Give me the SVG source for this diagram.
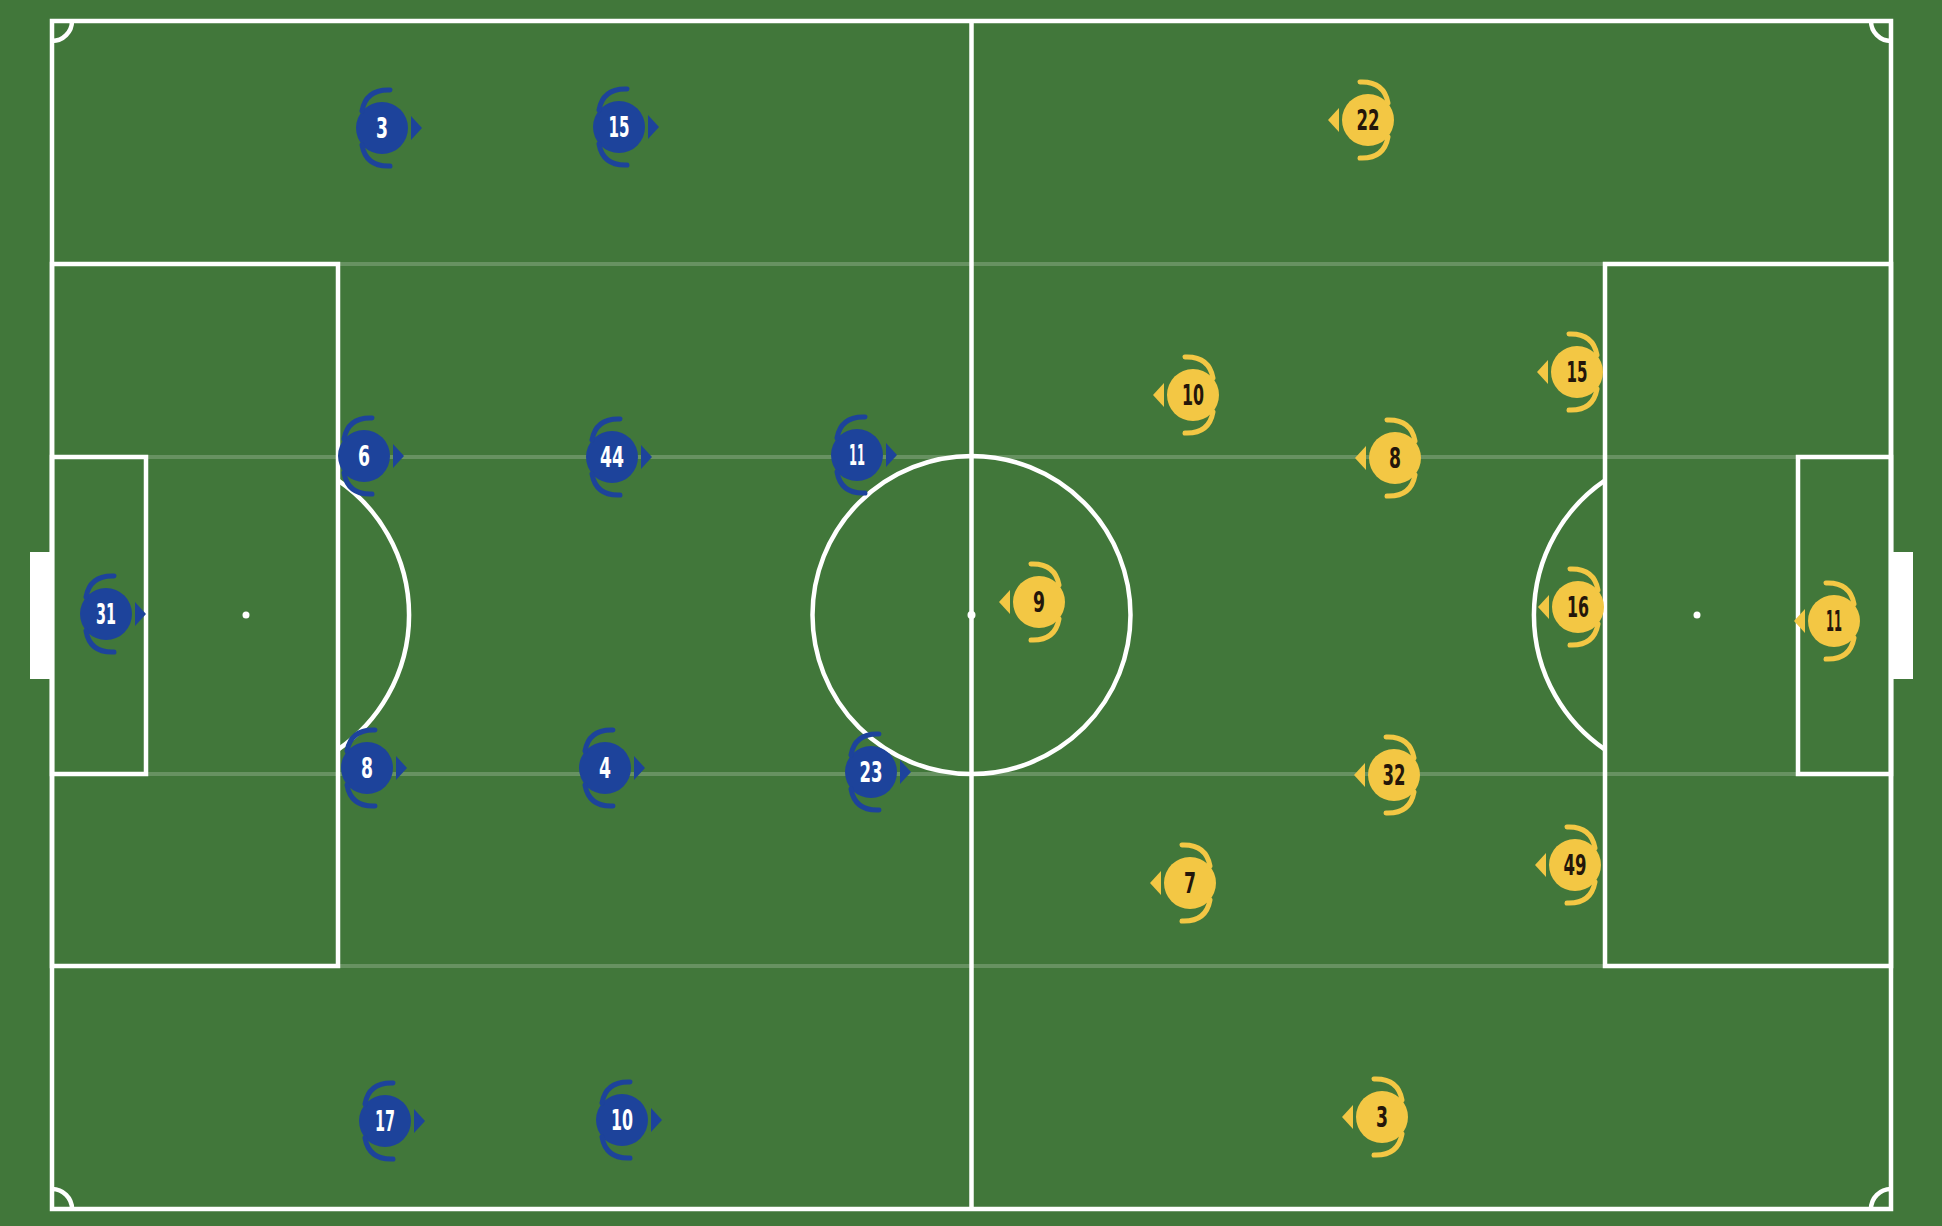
<svg xmlns="http://www.w3.org/2000/svg" xmlns:xlink="http://www.w3.org/1999/xlink" width="1942" height="1226" viewBox="0 0 1942 1226">
<style>
.pitch{fill:none;stroke:#ffffff;stroke-width:4.5}
.faint{stroke:#ffffff;stroke-opacity:0.2;stroke-width:4}
.spot{fill:#ffffff}
.goal{fill:#ffffff}
.num{font-family:"Liberation Sans Narrow","DejaVu Sans Condensed","Liberation Sans",sans-serif;font-size:28px;text-anchor:middle;font-weight:700}
.bnum{fill:#ffffff}
.ynum{fill:#24160a}
</style>
<defs>
<g id="blue">
<circle cx="0" cy="0" r="26" fill="#1d439b"/>
<path d="M8 -38 Q-16 -39 -20 -17 M8 38 Q-16 39 -20 17" fill="none" stroke="#1d439b" stroke-width="5" stroke-linecap="round"/>
<polygon points="29,-12 40,0 29,12" fill="#1d439b"/>
</g>
<g id="yellow">
<circle cx="0" cy="0" r="26" fill="#f3c744"/>
<path d="M-8 -38 Q16 -39 20 -17 M-8 38 Q16 39 20 17" fill="none" stroke="#f3c744" stroke-width="5" stroke-linecap="round"/>
<polygon points="-29,-12 -40,0 -29,12" fill="#f3c744"/>
</g>
</defs>
<rect x="0" y="0" width="1942" height="1226" fill="#41773a"/>
<g id="pitch">
<line class="faint" x1="52" y1="264" x2="1891" y2="264"/>
<line class="faint" x1="52" y1="457" x2="1891" y2="457"/>
<line class="faint" x1="52" y1="774" x2="1891" y2="774"/>
<line class="faint" x1="52" y1="966" x2="1891" y2="966"/>
<rect class="goal" x="30" y="552" width="22" height="127"/>
<rect class="goal" x="1891" y="552" width="22" height="127"/>
<rect class="pitch" x="52" y="21" width="1839" height="1188"/>
<line class="pitch" x1="971.5" y1="21" x2="971.5" y2="1209"/>
<circle class="pitch" cx="971.5" cy="615" r="159"/>
<circle class="spot" cx="971.5" cy="615" r="4"/>
<rect class="pitch" x="52" y="264" width="286" height="702"/>
<rect class="pitch" x="1605" y="264" width="286" height="702"/>
<rect class="pitch" x="52" y="457" width="94" height="317"/>
<rect class="pitch" x="1798" y="457" width="93" height="317"/>
<circle class="spot" cx="246" cy="615" r="3.5"/>
<circle class="spot" cx="1697" cy="615" r="3.5"/>
<path class="pitch" d="M338 480.4 A163 163 0 0 1 338 749.6"/>
<path class="pitch" d="M1605 480.4 A163 163 0 0 0 1605 749.6"/>
<path class="pitch" d="M52 41 A20 20 0 0 0 72 21 M1871 21 A20 20 0 0 0 1891 41 M52 1189 A20 20 0 0 1 72 1209 M1871 1209 A20 20 0 0 1 1891 1189"/>
</g>
<g id="connectors"></g>
<g id="blue-3" transform="translate(382,128)"><use xlink:href="#blue" href="#blue"/><text class="num bnum" x="0" y="10" textLength="12" lengthAdjust="spacingAndGlyphs">3</text></g>
<g id="blue-15" transform="translate(619,127)"><use xlink:href="#blue" href="#blue"/><text class="num bnum" x="0" y="10" textLength="21" lengthAdjust="spacingAndGlyphs">15</text></g>
<g id="blue-6" transform="translate(364,456)"><use xlink:href="#blue" href="#blue"/><text class="num bnum" x="0" y="10" textLength="12" lengthAdjust="spacingAndGlyphs">6</text></g>
<g id="blue-44" transform="translate(612,457)"><use xlink:href="#blue" href="#blue"/><text class="num bnum" x="0" y="10" textLength="24" lengthAdjust="spacingAndGlyphs">44</text></g>
<g id="blue-11" transform="translate(857,455)"><use xlink:href="#blue" href="#blue"/><text class="num bnum" x="0" y="10" textLength="16" lengthAdjust="spacingAndGlyphs">11</text></g>
<g id="blue-31" transform="translate(106,614)"><use xlink:href="#blue" href="#blue"/><text class="num bnum" x="0" y="10" textLength="20" lengthAdjust="spacingAndGlyphs">31</text></g>
<g id="blue-8" transform="translate(367,768)"><use xlink:href="#blue" href="#blue"/><text class="num bnum" x="0" y="10" textLength="12" lengthAdjust="spacingAndGlyphs">8</text></g>
<g id="blue-4" transform="translate(605,768)"><use xlink:href="#blue" href="#blue"/><text class="num bnum" x="0" y="10" textLength="12" lengthAdjust="spacingAndGlyphs">4</text></g>
<g id="blue-23" transform="translate(871,772)"><use xlink:href="#blue" href="#blue"/><text class="num bnum" x="0" y="10" textLength="23" lengthAdjust="spacingAndGlyphs">23</text></g>
<g id="blue-17" transform="translate(385,1121)"><use xlink:href="#blue" href="#blue"/><text class="num bnum" x="0" y="10" textLength="20" lengthAdjust="spacingAndGlyphs">17</text></g>
<g id="blue-10" transform="translate(622,1120)"><use xlink:href="#blue" href="#blue"/><text class="num bnum" x="0" y="10" textLength="22" lengthAdjust="spacingAndGlyphs">10</text></g>
<g id="yellow-22" transform="translate(1368,120)"><use xlink:href="#yellow" href="#yellow"/><text class="num ynum" x="0" y="10" textLength="23" lengthAdjust="spacingAndGlyphs">22</text></g>
<g id="yellow-10" transform="translate(1193,395)"><use xlink:href="#yellow" href="#yellow"/><text class="num ynum" x="0" y="10" textLength="22" lengthAdjust="spacingAndGlyphs">10</text></g>
<g id="yellow-15" transform="translate(1577,372)"><use xlink:href="#yellow" href="#yellow"/><text class="num ynum" x="0" y="10" textLength="21" lengthAdjust="spacingAndGlyphs">15</text></g>
<g id="yellow-8" transform="translate(1395,458)"><use xlink:href="#yellow" href="#yellow"/><text class="num ynum" x="0" y="10" textLength="12" lengthAdjust="spacingAndGlyphs">8</text></g>
<g id="yellow-9" transform="translate(1039,602)"><use xlink:href="#yellow" href="#yellow"/><text class="num ynum" x="0" y="10" textLength="12" lengthAdjust="spacingAndGlyphs">9</text></g>
<g id="yellow-16" transform="translate(1578,607)"><use xlink:href="#yellow" href="#yellow"/><text class="num ynum" x="0" y="10" textLength="22" lengthAdjust="spacingAndGlyphs">16</text></g>
<g id="yellow-11" transform="translate(1834,621)"><use xlink:href="#yellow" href="#yellow"/><text class="num ynum" x="0" y="10" textLength="16" lengthAdjust="spacingAndGlyphs">11</text></g>
<g id="yellow-32" transform="translate(1394,775)"><use xlink:href="#yellow" href="#yellow"/><text class="num ynum" x="0" y="10" textLength="23" lengthAdjust="spacingAndGlyphs">32</text></g>
<g id="yellow-7" transform="translate(1190,883)"><use xlink:href="#yellow" href="#yellow"/><text class="num ynum" x="0" y="10" textLength="12" lengthAdjust="spacingAndGlyphs">7</text></g>
<g id="yellow-49" transform="translate(1575,865)"><use xlink:href="#yellow" href="#yellow"/><text class="num ynum" x="0" y="10" textLength="23" lengthAdjust="spacingAndGlyphs">49</text></g>
<g id="yellow-3" transform="translate(1382,1117)"><use xlink:href="#yellow" href="#yellow"/><text class="num ynum" x="0" y="10" textLength="12" lengthAdjust="spacingAndGlyphs">3</text></g>
</svg>
